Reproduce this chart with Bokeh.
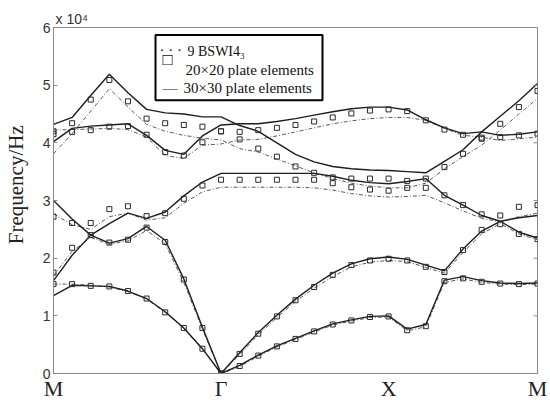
from bokeh.plotting import figure
from bokeh.models import Range1d, FixedTicker, Label, BoxAnnotation
from bokeh.embed import file_html
from bokeh.resources import INLINE

# k-path sample index (M -> Gamma -> X -> M)
K = [0, 1, 2, 3, 4, 5, 6, 7, 8, 9, 10, 11, 12, 13, 14, 15, 16, 17, 18,
     19, 20, 21, 22, 23, 24, 25, 26]
X_TICKS = [0, 9, 18, 26]
X_LABELS = ["M", "Γ", "X", "M"]
Y_TICKS = [0, 1, 2, 3, 4, 5, 6]

# frequencies in units of 1e4 Hz
# 30x30 plate elements (solid)
SOLID_1 = [1.35, 1.53, 1.52, 1.51, 1.43, 1.30, 1.07, 0.79, 0.43, 0.00,
           0.14, 0.32, 0.48, 0.61, 0.74, 0.86, 0.93, 0.99, 1.00, 0.77, 0.85, 1.62, 1.68, 1.61, 1.57, 1.56, 1.57]
SOLID_2 = [1.61, 2.05, 2.40, 2.26, 2.34, 2.55, 2.31, 1.64, 0.80, 0.00,
           0.36, 0.71, 1.01, 1.29, 1.53, 1.74, 1.90, 1.99, 2.02, 1.98, 1.88, 1.78, 2.16, 2.47, 2.64, 2.45, 2.35]
SOLID_3 = [3.00, 2.68, 2.40, 2.60, 2.78, 2.69, 2.80, 3.08, 3.32, 3.47,
           3.47, 3.47, 3.47, 3.47, 3.47, 3.42, 3.35, 3.31, 3.29, 3.33, 3.38, 3.09, 2.92, 2.74, 2.64, 2.70, 2.74]
SOLID_4 = [4.02, 4.25, 4.29, 4.31, 4.33, 4.13, 3.87, 3.80, 4.12, 4.31,
           4.33, 4.33, 4.37, 4.42, 4.48, 4.54, 4.59, 4.62, 4.62, 4.57, 4.40, 4.26, 4.16, 4.19, 4.13, 4.15, 4.19]
SOLID_5 = [4.32, 4.44, 4.82, 5.19, 4.87, 4.58, 4.52, 4.50, 4.45, 4.45,
           4.30, 4.20, 4.00, 3.80, 3.67, 3.59, 3.55, 3.53, 3.52, 3.50, 3.48, 3.68, 3.88, 4.19, 4.46, 4.73, 5.03]

# 9 BSWI4_3 (dotted)
DOT_1 = [1.55, 1.55, 1.53, 1.50, 1.42, 1.29, 1.06, 0.78, 0.42, 0.00,
         0.12, 0.30, 0.46, 0.59, 0.72, 0.84, 0.91, 0.97, 0.98, 0.74, 0.81, 1.58, 1.64, 1.58, 1.55, 1.54, 1.55]
DOT_2 = [1.70, 2.12, 2.36, 2.24, 2.30, 2.48, 2.25, 1.58, 0.77, 0.00,
         0.33, 0.67, 0.97, 1.25, 1.48, 1.68, 1.85, 1.93, 1.96, 1.94, 1.84, 1.74, 2.10, 2.42, 2.60, 2.42, 2.32]
DOT_3 = [2.77, 2.58, 2.50, 2.72, 2.78, 2.66, 2.70, 2.95, 3.15, 3.23,
         3.23, 3.23, 3.23, 3.23, 3.22, 3.18, 3.12, 3.08, 3.06, 3.07, 3.09, 2.96, 2.82, 2.69, 2.63, 2.72, 2.78]
DOT_4 = [4.22, 4.23, 4.24, 4.25, 4.23, 4.10, 3.78, 3.73, 3.96, 3.98,
         4.05, 4.06, 4.12, 4.19, 4.26, 4.33, 4.38, 4.42, 4.44, 4.44, 4.39, 4.25, 4.13, 4.10, 4.04, 4.07, 4.10]
DOT_5 = [3.81, 4.16, 4.55, 4.94, 4.62, 4.32, 4.20, 4.13, 4.08, 4.05,
         3.90, 3.84, 3.72, 3.60, 3.48, 3.38, 3.30, 3.25, 3.22, 3.22, 3.30, 3.55, 3.76, 3.96, 4.22, 4.50, 4.77]

# 20x20 plate elements (squares)
SQ_1 = [1.55, 1.55, 1.52, 1.51, 1.43, 1.30, 1.06, 0.79, 0.43, 0.00,
        0.13, 0.31, 0.47, 0.60, 0.73, 0.85, 0.92, 0.98, 0.99, 0.75, 0.82, 1.60, 1.65, 1.59, 1.56, 1.55, 1.56]
SQ_2 = [1.75, 2.18, 2.40, 2.27, 2.32, 2.53, 2.28, 1.63, 0.79, 0.00,
        0.34, 0.69, 0.99, 1.27, 1.50, 1.71, 1.88, 1.96, 1.99, 1.96, 1.85, 1.76, 2.14, 2.49, 2.59, 2.42, 2.33]
SQ_3 = [2.72, 2.61, 2.61, 2.85, 2.90, 2.73, 2.78, 3.03, 3.26, 3.36,
        3.36, 3.36, 3.36, 3.36, 3.36, 3.30, 3.23, 3.19, 3.17, 3.22, 3.22, 3.09, 2.92, 2.76, 2.74, 2.89, 2.92]
SQ_4 = [4.15, 4.19, 4.22, 4.28, 4.29, 4.14, 3.84, 3.78, 4.01, 4.20,
        4.19, 4.22, 4.26, 4.31, 4.37, 4.44, 4.51, 4.56, 4.58, 4.55, 4.39, 4.23, 4.14, 4.07, 4.10, 4.13, 4.16]
SQ_5 = [4.20, 4.34, 4.75, 5.09, 4.72, 4.42, 4.34, 4.31, 4.28, 4.20,
        4.06, 3.90, 3.76, 3.59, 3.48, 3.40, 3.38, 3.38, 3.38, 3.34, 3.38, 3.58, 3.81, 4.09, 4.33, 4.62, 4.90]

SOLID = [SOLID_1, SOLID_2, SOLID_3, SOLID_4, SOLID_5]
DOTTED = [DOT_1, DOT_2, DOT_3, DOT_4, DOT_5]
SQUARES = [SQ_1, SQ_2, SQ_3, SQ_4, SQ_5]

LEGEND_SYMBOLS = ["\u00b7\u00a0\u00b7\u00a0\u00b7", "\u25a1", "\u2014"]
LEGEND_LABELS = ["9 BSWI4\u2083", "20\u00d720 plate elements", "30\u00d730 plate elements"]

p = figure(width=550, height=409, output_backend="svg", toolbar_location=None,
           x_range=Range1d(0, 26), y_range=Range1d(0, 6),
           min_border_left=53, min_border_right=13, min_border_top=27, min_border_bottom=36)
p.xgrid.visible = False
p.ygrid.visible = False
p.outline_line_color = "#8a8a8a"
p.outline_line_width = 1
p.background_fill_color = "white"
p.border_fill_color = "white"

# exponent note as a left-aligned title just above the frame
p.title.text = "x 10\u2074"
p.title.align = "left"
p.title.offset = 2
p.title.standoff = 1
p.title.text_font = "Liberation Sans"
p.title.text_font_size = "14px"
p.title.text_font_style = "normal"
p.title.text_color = "#333333"

for b in DOTTED:
    p.line(K, b, line_color="#5a5a5a", line_width=1, line_dash="4 2 1 2")
for b in SOLID:
    p.line(K, b, line_color="#1e1e1e", line_width=1.4)
for b in SQUARES:
    p.scatter(K, b, marker="square", size=5, fill_color=None, line_color="#2a2a2a", line_width=1)

# inside ticks on the right frame edge
p.ray(x=p.x_range.end, y=Y_TICKS, length=4, length_units="screen", angle=180,
      angle_units="deg", line_color="#8a8a8a", line_width=1)

# x axis
p.xaxis.ticker = FixedTicker(ticks=X_TICKS)
p.xaxis.major_label_overrides = {t: l for t, l in zip(X_TICKS, X_LABELS)}
p.xaxis.major_label_text_font = "Liberation Serif"
p.xaxis.major_label_text_font_size = "22px"
p.xaxis.major_label_text_color = "#222222"
p.xaxis.major_label_standoff = 2
p.xaxis.major_tick_in = 0
p.xaxis.major_tick_out = 0
p.xaxis.minor_tick_line_color = None
p.xaxis.axis_line_color = "#8a8a8a"

# y axis
p.yaxis.ticker = FixedTicker(ticks=Y_TICKS)
p.yaxis.major_label_text_font = "Liberation Sans"
p.yaxis.major_label_text_font_size = "14px"
p.yaxis.major_label_text_color = "#333333"
p.yaxis.major_label_standoff = 3
p.yaxis.major_tick_in = 4
p.yaxis.major_tick_out = 0
p.yaxis.major_tick_line_color = "#8a8a8a"
p.yaxis.minor_tick_line_color = None
p.yaxis.axis_line_color = "#8a8a8a"
# leading no-break spaces lift the visible title slightly above the frame centre, as in the original
p.yaxis.axis_label = "\u00a0" * 6 + "Frequency/Hz"
p.yaxis.axis_label_text_font = "Liberation Serif"
p.yaxis.axis_label_text_font_size = "21px"
p.yaxis.axis_label_text_font_style = "normal"
p.yaxis.axis_label_text_color = "#222222"
p.yaxis.axis_label_standoff = 12

# legend box (data-space frame) with text entries
LEG_L, LEG_R, LEG_T, LEG_B = 5.48, 14.45, 5.868, 4.74
p.add_layout(BoxAnnotation(left=LEG_L, right=LEG_R, top=LEG_T, bottom=LEG_B,
                           fill_color="white", fill_alpha=1.0,
                           line_color="black", line_width=2, line_alpha=1.0))
row_dy = [-16, -35, -53]
sym_dx = [4, 7, 7]
sym_dy = [-15, -24, -53]
sym_size = ["15px", "17px", "15px"]
sym_base = ["alphabetic", "middle", "alphabetic"]
lab_dx = [32, 30, 28]
lab_size = ["14px", "15px", "15px"]
for i in range(3):
    p.add_layout(Label(x=LEG_L, y=LEG_T, x_units="data", y_units="data", text=LEGEND_SYMBOLS[i],
                       x_offset=sym_dx[i], y_offset=sym_dy[i], text_font="Liberation Serif",
                       text_font_size=sym_size[i], text_color="#111111", text_baseline=sym_base[i]))
    p.add_layout(Label(x=LEG_L, y=LEG_T, x_units="data", y_units="data", text=LEGEND_LABELS[i],
                       x_offset=lab_dx[i], y_offset=row_dy[i], text_font="Liberation Serif",
                       text_font_size=lab_size[i], text_color="#111111", text_baseline="alphabetic"))

open("out.html", "w").write(file_html(p, INLINE))
